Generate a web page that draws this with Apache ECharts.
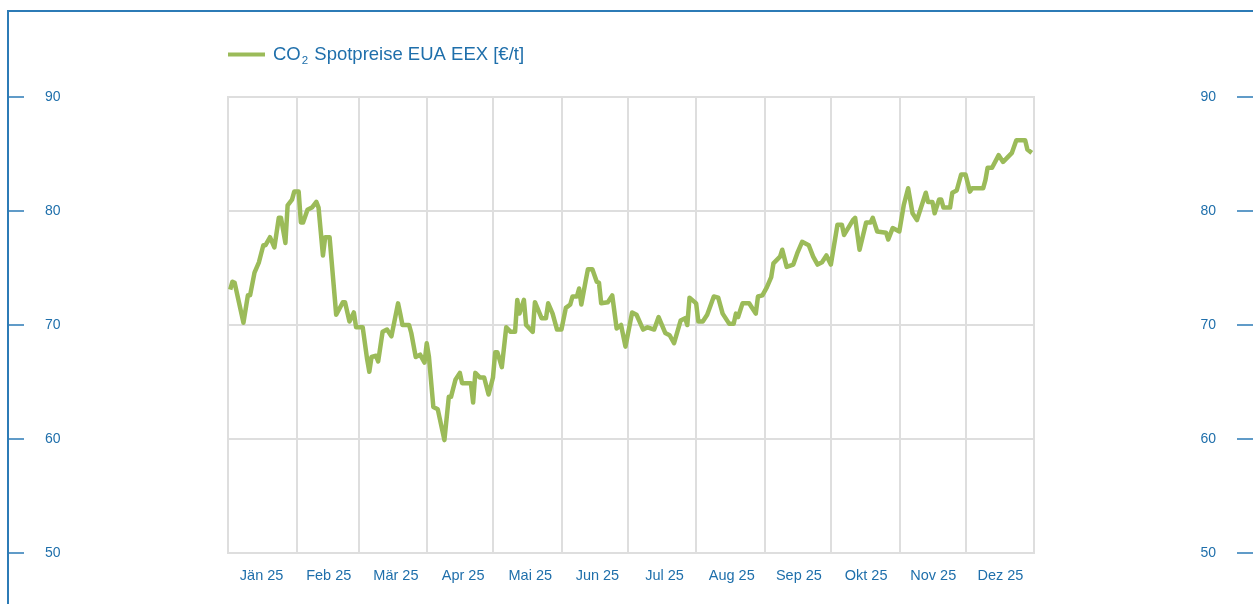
<!DOCTYPE html>
<html>
<head>
<meta charset="utf-8">
<script src="https://cdn.jsdelivr.net/npm/echarts@6/dist/echarts.min.js"></script>
<style>
html,body{margin:0;padding:0;background:#fff;}
#chart{width:1253px;height:604px;}
</style>
</head>
<body>
<div id="chart"></div>
<script>
const monthLabels = ['Jän 25','Feb 25','Mär 25','Apr 25','Mai 25','Jun 25','Jul 25','Aug 25','Sep 25','Okt 25','Nov 25','Dez 25'];
const dates = [
'2025-01-02','2025-01-03','2025-01-04','2025-01-08','2025-01-10','2025-01-11','2025-01-13','2025-01-15','2025-01-17','2025-01-18','2025-01-20','2025-01-22','2025-01-24','2025-01-25','2025-01-27','2025-01-28','2025-01-30','2025-01-31',
'2025-02-02','2025-02-03','2025-02-04','2025-02-06','2025-02-08','2025-02-10','2025-02-11','2025-02-13','2025-02-14','2025-02-16','2025-02-19','2025-02-22','2025-02-23','2025-02-25','2025-02-27','2025-02-28',
'2025-03-03','2025-03-05','2025-03-06','2025-03-07','2025-03-09','2025-03-10','2025-03-12','2025-03-14','2025-03-16','2025-03-19','2025-03-20','2025-03-21','2025-03-24','2025-03-25','2025-03-27','2025-03-29','2025-03-31',
'2025-04-01','2025-04-02','2025-04-04','2025-04-06','2025-04-09','2025-04-11','2025-04-12','2025-04-14','2025-04-16','2025-04-17','2025-04-21','2025-04-22','2025-04-23','2025-04-25','2025-04-27','2025-04-29',
'2025-05-01','2025-05-02','2025-05-03','2025-05-05','2025-05-07','2025-05-09','2025-05-11','2025-05-12','2025-05-13','2025-05-15','2025-05-16','2025-05-19','2025-05-20','2025-05-23','2025-05-25','2025-05-26','2025-05-28','2025-05-30',
'2025-06-01','2025-06-03','2025-06-05','2025-06-06','2025-06-08','2025-06-09','2025-06-10','2025-06-12','2025-06-13','2025-06-15','2025-06-17','2025-06-18','2025-06-19','2025-06-22','2025-06-24','2025-06-26','2025-06-28','2025-06-30',
'2025-07-03','2025-07-05','2025-07-08','2025-07-10','2025-07-13','2025-07-15','2025-07-18','2025-07-20','2025-07-22','2025-07-25','2025-07-27','2025-07-28','2025-07-29',
'2025-08-01','2025-08-02','2025-08-04','2025-08-06','2025-08-09','2025-08-11','2025-08-13','2025-08-16','2025-08-18','2025-08-19','2025-08-20','2025-08-22','2025-08-25','2025-08-26','2025-08-28','2025-08-29','2025-08-31',
'2025-09-02','2025-09-04','2025-09-05','2025-09-08','2025-09-09','2025-09-11','2025-09-14','2025-09-16','2025-09-18','2025-09-21','2025-09-23','2025-09-25','2025-09-27','2025-09-29',
'2025-10-01','2025-10-04','2025-10-06','2025-10-07','2025-10-11','2025-10-12','2025-10-14','2025-10-17','2025-10-19','2025-10-20','2025-10-22','2025-10-26','2025-10-27','2025-10-29',
'2025-11-01','2025-11-03','2025-11-05','2025-11-07','2025-11-09','2025-11-13','2025-11-14','2025-11-16','2025-11-17','2025-11-19','2025-11-20','2025-11-21','2025-11-24','2025-11-25','2025-11-27','2025-11-29',
'2025-12-01','2025-12-03','2025-12-04','2025-12-09','2025-12-10','2025-12-11','2025-12-13','2025-12-16','2025-12-18','2025-12-20','2025-12-22','2025-12-24','2025-12-28','2025-12-29','2025-12-31'
];
const prices = [
73.1,73.8,73.7,70.2,72.6,72.6,74.6,75.5,77.0,77.0,77.7,76.8,79.4,79.4,77.2,80.5,81.0,81.7,
81.7,79.0,79.0,80.1,80.3,80.8,80.3,76.1,77.7,77.7,70.9,72.0,72.0,70.3,71.1,69.8,
69.8,67.0,65.9,67.2,67.3,66.8,69.4,69.6,69.0,71.9,71.0,70.0,70.0,69.3,67.2,67.4,66.7,
68.4,67.2,62.8,62.6,59.9,63.7,63.7,65.2,65.8,64.9,64.9,63.2,65.8,65.4,65.4,63.9,
65.4,67.6,67.6,66.3,69.8,69.4,69.4,72.2,71.0,72.2,70.0,69.4,72.0,70.6,70.6,71.9,71.0,69.6,
69.6,71.5,71.8,72.5,72.5,73.2,71.8,73.9,74.9,74.9,73.8,73.7,71.9,72.0,72.6,69.7,70.0,68.1,
71.1,70.9,69.6,69.8,69.6,70.7,69.3,69.1,68.4,70.4,70.6,70.0,72.4,
71.9,70.3,70.3,70.9,72.5,72.4,71.0,70.1,70.1,71.0,70.7,71.9,71.9,71.6,71.0,72.5,72.6,
73.3,74.2,75.4,76.0,76.6,75.1,75.3,76.4,77.3,77.0,76.0,75.3,75.5,76.1,
75.3,78.8,78.8,77.9,79.2,79.4,76.6,79.0,79.0,79.4,78.2,78.1,77.5,78.5,
78.2,80.5,82.0,79.8,79.2,81.6,80.8,80.8,79.8,81.0,81.0,80.3,80.3,81.6,81.8,83.2,
83.2,81.7,82.0,82.0,82.7,83.8,83.8,84.9,84.3,84.7,85.1,86.2,86.2,85.4,85.1
];
const seriesName = 'CO2 Spotpreise EUA EEX [€/t]';

const blue = '#1f6fab';
const lineBlue = '#2c7bb6';
const green = '#9bbb59';
const gridGrey = '#dedede';
const font = '"Liberation Sans", Arial, sans-serif';

const chart = echarts.init(document.getElementById('chart'), null, {renderer: 'canvas'});
const day = 86400000;
chart.setOption({
  animation: false,
  backgroundColor: '#fff',
  textStyle: {fontFamily: font},
  grid: {left: 228, right: 219, top: 97, bottom: 51, show: true, borderColor: gridGrey, borderWidth: 2, outerBoundsMode: 'none'},
  legend: {
    left: 228, top: 42, padding: 0, icon: 'rect', itemWidth: 37, itemHeight: 4, itemGap: 0,
    data: [seriesName],
    formatter: function () { return '{a|CO}{s|2}{a| Spotpreise EUA EEX [€/t]}'; },
    textStyle: {
      color: blue, fontFamily: font, padding: [0, 0, 0, 3],
      rich: {
        a: {fontSize: 18.5, color: blue, fontFamily: font, lineHeight: 24},
        s: {fontSize: 11.5, color: blue, fontFamily: font, lineHeight: 11, padding: [13, 1, 0, 1]}
      }
    }
  },
  xAxis: [
    {
      type: 'time', min: '2025-01-01', max: '2026-01-01',
      minInterval: 28 * day, maxInterval: 31 * day,
      axisLine: {show: false}, axisTick: {show: false}, axisLabel: {show: false},
      splitLine: {show: true, lineStyle: {color: gridGrey, width: 2}}
    },
    {
      type: 'category', data: monthLabels, boundaryGap: true, position: 'bottom',
      axisLine: {show: false}, axisTick: {show: false}, splitLine: {show: false},
      axisLabel: {color: blue, fontSize: 14.5, fontFamily: font, margin: 15}
    }
  ],
  yAxis: [
    {
      type: 'value', min: 50, max: 90, interval: 10,
      axisLine: {show: false}, axisTick: {show: false}, axisLabel: {show: false},
      splitLine: {show: true, lineStyle: {color: gridGrey, width: 2}}
    },
    {
      type: 'value', min: 50, max: 90, interval: 10, position: 'left', offset: 220,
      axisLine: {show: false},
      axisTick: {show: true, inside: true, length: 16, lineStyle: {color: lineBlue, width: 1.5}},
      axisLabel: {inside: true, margin: 37, color: blue, fontSize: 14, fontFamily: font},
      splitLine: {show: false}
    },
    {
      type: 'value', min: 50, max: 90, interval: 10, position: 'right', offset: 219,
      axisLine: {show: false},
      axisTick: {show: true, inside: true, length: 16, lineStyle: {color: lineBlue, width: 1.5}},
      axisLabel: {inside: true, margin: 37, color: blue, fontSize: 14, fontFamily: font},
      splitLine: {show: false}
    }
  ],
  graphic: [{
    type: 'polyline', silent: true, z: 100,
    shape: {points: [[8, 604], [8, 11], [1253, 11]]},
    style: {stroke: lineBlue, lineWidth: 2, fill: null}
  }],
  series: [{
    name: seriesName, type: 'line', xAxisIndex: 0, yAxisIndex: 0,
    data: dates.map((d, i) => [d, prices[i]]),
    showSymbol: false, symbol: 'none',
    lineStyle: {color: green, width: 4.5, join: 'round'},
    itemStyle: {color: green},
    z: 5
  }]
});
</script>
</body>
</html>
